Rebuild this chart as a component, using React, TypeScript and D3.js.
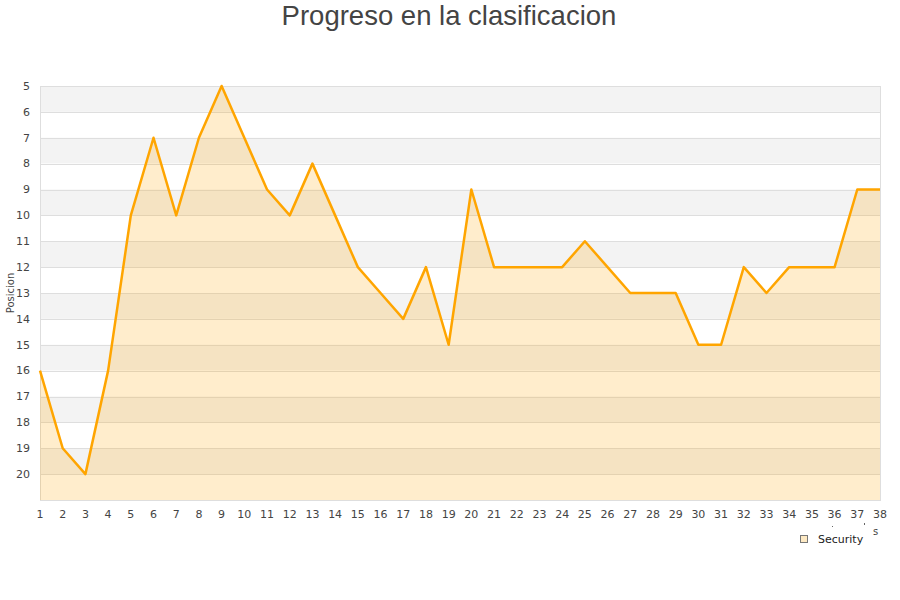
import * as d3 from 'd3';
import React, { useEffect, useRef } from 'react';

// jornadas 1..38 and position in the table
const jornadas: number[] = d3.range(1, 39);
const posiciones: number[] = [
    16, 19, 20, 16, 10, 7, 10, 7, 5, 7,
    9, 10, 8, 10, 12, 13, 14, 12, 15, 9,
    12, 12, 12, 12, 11, 12, 13, 13, 13, 15,
    15, 12, 13, 12, 12, 12, 9, 9,
];
const yTicks: number[] = d3.range(5, 21);
const seriesName = 'Security';

export default () => {
    const ref = useRef<any>();

    useEffect(() => {
        const width = 900;
        const height = 600;
        const margin = { top: 86, right: 20, bottom: 100, left: 40 };
        const innerW = width - margin.left - margin.right;
        const innerH = height - margin.top - margin.bottom;

        const svg = d3.select<any, any>(ref.current)
            .attr('width', width)
            .attr('height', height)
            .style('font-family', '"DejaVu Sans", Verdana, sans-serif');
        svg.selectAll('*').remove();

        const x = d3.scaleLinear().domain([1, 38]).range([0, innerW]);
        const y = d3.scaleLinear().domain([5, 21]).range([0, innerH]);

        svg.append('text')
            .attr('x', 449)
            .attr('y', 25)
            .attr('text-anchor', 'middle')
            .style('font-family', '"Liberation Sans", Arial, sans-serif')
            .style('font-size', '27.5px')
            .attr('fill', '#444')
            .text('Progreso en la clasificacion');

        const stage = svg.append('g')
            .attr('transform', `translate(${margin.left},${margin.top})`);

        // alternating bands
        stage.append('g').selectAll('rect')
            .data(d3.range(5, 21))
            .join('rect')
            .attr('x', 0)
            .attr('y', (d) => y(d))
            .attr('width', innerW)
            .attr('height', (d) => y(d + 1) - y(d))
            .attr('fill', (d) => ((d - 5) % 2 === 0 ? '#f3f3f3' : '#ffffff'));

        // grid lines
        stage.append('g').selectAll('line')
            .data(yTicks)
            .join('line')
            .attr('x1', 0)
            .attr('x2', innerW)
            .attr('y1', (d) => Math.round(y(d)) + 0.5)
            .attr('y2', (d) => Math.round(y(d)) + 0.5)
            .attr('stroke', '#dedede');

        stage.append('rect')
            .attr('x', 0.5)
            .attr('y', 0.5)
            .attr('width', innerW)
            .attr('height', innerH)
            .attr('fill', 'none')
            .attr('stroke', '#dedede');

        const pts = jornadas.map((j, i) => [j, posiciones[i]] as [number, number]);

        const area = d3.area<[number, number]>()
            .x((d) => x(d[0]))
            .y0(innerH)
            .y1((d) => y(d[1]));
        const line = d3.line<[number, number]>()
            .x((d) => x(d[0]))
            .y((d) => y(d[1]));

        stage.append('path')
            .attr('d', area(pts))
            .attr('fill', '#ffa500')
            .attr('fill-opacity', 0.2);

        stage.append('path')
            .attr('d', line(pts))
            .attr('fill', 'none')
            .attr('stroke', '#ffa500')
            .attr('stroke-width', 2.5)
            .attr('stroke-linejoin', 'round');

        // y ticks
        stage.append('g').selectAll('text')
            .data(yTicks)
            .join('text')
            .attr('x', -10)
            .attr('y', (d) => y(d))
            .attr('dy', '0.35em')
            .attr('text-anchor', 'end')
            .style('font-size', '11px')
            .attr('fill', '#444')
            .text((d) => d);

        // x ticks
        stage.append('g').selectAll('text')
            .data(jornadas)
            .join('text')
            .attr('x', (d) => x(d))
            .attr('y', innerH + 18)
            .attr('text-anchor', 'middle')
            .style('font-size', '11px')
            .attr('fill', '#444')
            .text((d) => d);

        svg.append('text')
            .attr('transform', `translate(14,${margin.top + innerH / 2}) rotate(-90)`)
            .attr('text-anchor', 'middle')
            .style('font-size', '10px')
            .attr('fill', '#444')
            .text('Posicion');

        // clipped axis title remnants
        svg.append('text')
            .attr('x', 873)
            .attr('y', 535)
            .style('font-size', '10px')
            .attr('fill', '#444')
            .text('s');
        svg.append('rect').attr('x', 832).attr('y', 526).attr('width', 1).attr('height', 1).attr('fill', '#666');
        svg.append('rect').attr('x', 864).attr('y', 523).attr('width', 1).attr('height', 2).attr('fill', '#666');

        // legend
        const legend = svg.append('g').attr('transform', 'translate(800,535)');
        legend.append('rect')
            .attr('x', 0.5)
            .attr('y', 0.5)
            .attr('width', 7)
            .attr('height', 7)
            .attr('fill', '#fde9c3')
            .attr('stroke', '#777');
        legend.append('text')
            .attr('x', 18)
            .attr('y', 7.5)
            .style('font-size', '11px')
            .attr('fill', '#222')
            .text(seriesName);
    }, []);

    return (
        <div style={{ position: 'absolute', top: 0, left: 0 }}>
            <svg ref={ref}></svg>
        </div>
    );
};
